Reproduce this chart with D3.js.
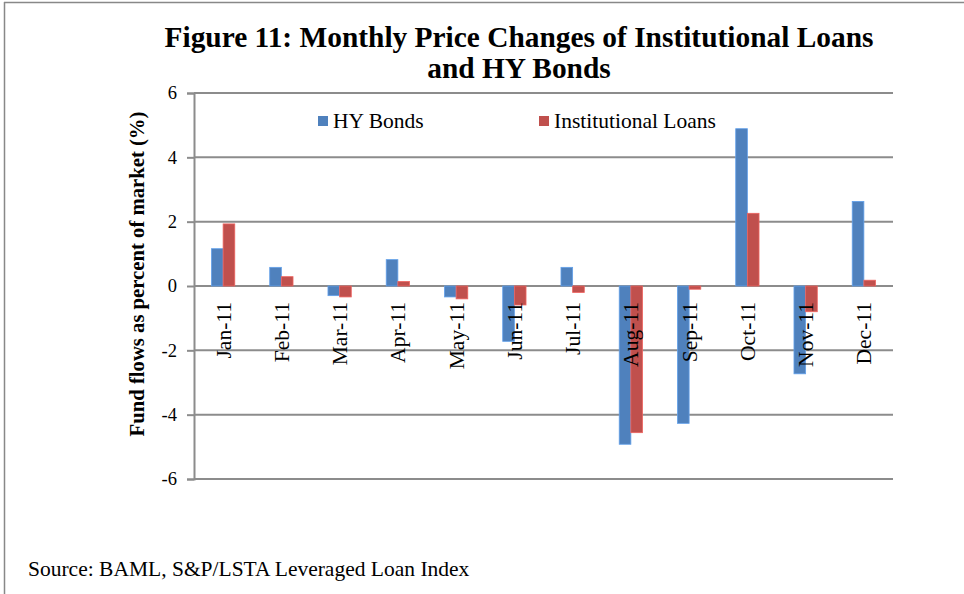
<!DOCTYPE html>
<html><head><meta charset="utf-8">
<script src="https://cdn.jsdelivr.net/npm/d3@7"></script>
<style>
html,body{margin:0;padding:0;background:#fff;}
text{font-family:"Liberation Serif","Times New Roman",serif;fill:#000;}
</style></head>
<body><svg id="c" width="964" height="594"></svg>
<script>
const categories = ["Jan-11","Feb-11","Mar-11","Apr-11","May-11","Jun-11","Jul-11","Aug-11","Sep-11","Oct-11","Nov-11","Dec-11"];
const hyBonds = [1.16,0.58,-0.30,0.82,-0.34,-1.72,0.58,-4.92,-4.27,4.89,-2.73,2.63];
const instLoans = [1.93,0.29,-0.34,0.14,-0.40,-0.59,-0.20,-4.56,-0.10,2.26,-0.80,0.18];
const yTicks = [-6,-4,-2,0,2,4,6];
const seriesNames = ["HY Bonds","Institutional Loans"];
const colors = ["#4F81BD","#C0504D"];
const FONT = "Liberation Serif";

const svg = d3.select("#c");
// frame
svg.append("line").attr("x1",4).attr("x2",964).attr("y1",2.5).attr("y2",2.5).attr("stroke","#888").attr("stroke-width",1.5);
svg.append("line").attr("x1",4.5).attr("x2",4.5).attr("y1",2).attr("y2",594).attr("stroke","#888").attr("stroke-width",1.5);

const L=194,R=893,T=93,B=479;
const x = d3.scaleBand().domain(categories).range([L,R]);
const y = d3.scaleLinear().domain([-6,6]).range([B,T]);

// gridlines
svg.append("g").selectAll("line").data(yTicks).join("line")
  .attr("x1",L).attr("x2",R).attr("y1",d=>y(d)).attr("y2",d=>y(d))
  .attr("stroke","#8c8c8c").attr("stroke-width",2);

// y axis
const ya = svg.append("g").attr("transform",`translate(${L},0)`)
  .call(d3.axisLeft(y).tickValues(yTicks).tickSize(7).tickPadding(10).tickFormat(d=>String(d)));
ya.attr("font-family",FONT);
ya.select(".domain").attr("stroke","#8c8c8c").attr("stroke-width",2);
ya.selectAll(".tick line").attr("stroke","#8c8c8c").attr("stroke-width",2);
ya.selectAll(".tick text").attr("font-family",FONT).attr("font-size",18.5).attr("fill","#000").attr("dy","0.32em");

// bars
const bw = x.bandwidth()*0.2;
const series=[hyBonds,instLoans];
series.forEach((vals,si)=>{
  svg.append("g").selectAll("rect").data(vals).join("rect")
    .attr("x",(d,i)=>x(categories[i])+x.bandwidth()/2 - bw + si*bw)
    .attr("width",bw)
    .attr("y",d=>y(Math.max(0,d)))
    .attr("height",d=>Math.abs(y(d)-y(0)))
    .attr("fill",colors[si])
    .attr("stroke",d3.color(colors[si]).brighter(0.6)).attr("stroke-width",0.8);
});

// category labels
svg.append("g").selectAll("text").data(categories).join("text")
  .attr("transform",d=>`translate(${x(d)+x.bandwidth()/2+7.5},${y(0)+16}) rotate(-90)`)
  .attr("text-anchor","end").attr("font-family",FONT).attr("font-size",21.5).text(d=>d);

// title
const title = svg.append("text").attr("x",519).attr("text-anchor","middle").attr("font-family",FONT).attr("font-weight","bold").attr("font-size",29.4);
title.append("tspan").attr("x",519).attr("y",47).text("Figure 11: Monthly Price Changes of Institutional Loans");
title.append("tspan").attr("x",519).attr("y",78).text("and HY Bonds");

// y axis title
svg.append("text").attr("transform","translate(144,274) rotate(-90)").attr("text-anchor","middle")
  .attr("font-family",FONT).attr("font-weight","bold").attr("font-size",20.7).text("Fund flows as percent of market (%)");

// legend
const legX=[318,539];
seriesNames.forEach((n,i)=>{
  svg.append("rect").attr("x",legX[i]).attr("y",116).attr("width",10).attr("height",10).attr("fill",colors[i]);
  svg.append("text").attr("x",legX[i]+15).attr("y",128).attr("font-family",FONT).attr("font-size",21.5).text(n);
});

// source
svg.append("text").attr("x",28).attr("y",576).attr("font-family",FONT).attr("font-size",21.5).text("Source: BAML, S&P/LSTA Leveraged Loan Index");
</script></body></html>
